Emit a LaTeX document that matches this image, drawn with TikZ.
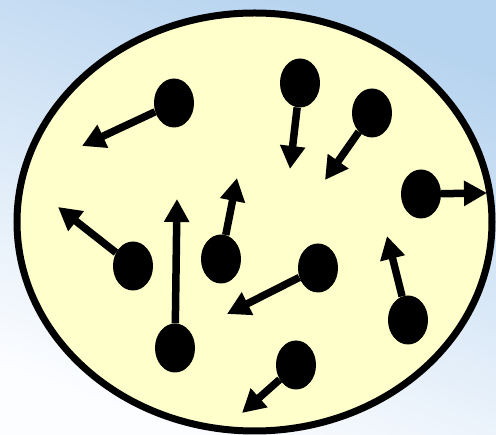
\documentclass[tikz,border=0pt]{standalone}
\usepackage{tikz}
\usetikzlibrary{arrows.meta, positioning, shapes.geometric}
\definecolor{skyblue}{HTML}{B6D3EF}
\definecolor{paleblue}{HTML}{FCFDFF}
\definecolor{paleyellow}{HTML}{FFFFCC}
\tikzstyle{particle}=[ellipse,fill=black,minimum width=40pt,
  minimum height=49pt,inner sep=0pt]
\tikzstyle{vel}=[-{Triangle[length=23pt,width=24pt]},line width=7.5pt]

\begin{document}
\begin{tikzpicture}[x=1pt,y=-1pt]
  \shade[top color=skyblue,bottom color=paleblue,shading angle=-20]
    (0,0) rectangle (496,435);
  \useasboundingbox (0,0) rectangle (496,435);
  \draw[line width=7pt,fill=paleyellow] (254.5,222) ellipse [x radius=237.5pt,y radius=209pt];
  \node[particle] (p1) at (174,103) {};
  \node[particle] (p2) at (300,83) {};
  \node[particle] (p3) at (372,113) {};
  \node[particle] (p4) at (421,194) {};
  \node[particle] (p5) at (133,266) {};
  \node[particle] (p6) at (175,348) {};
  \node[particle] (p7) at (221,259) {};
  \node[particle] (p8) at (318,268) {};
  \node[particle] (p9) at (408,320) {};
  \node[particle] (p10) at (296,365) {};
  \coordinate (t1) at (82,146);
  \coordinate (t2) at (290,169);
  \coordinate (t3) at (325,180);
  \coordinate (t4) at (487,193);
  \coordinate (t5) at (58,207);
  \coordinate (t6) at (177,199);
  \coordinate (t7) at (237,178);
  \coordinate (t8) at (227,314);
  \coordinate (t9) at (387,236);
  \coordinate (t10) at (242,413);
  \draw[vel] (p1) -- (t1);
  \draw[vel] (p2) -- (t2);
  \draw[vel] (p3) -- (t3);
  \draw[vel] (p4) -- (t4);
  \draw[vel] (p5) -- (t5);
  \draw[vel] (p6) -- (t6);
  \draw[vel] (p7) -- (t7);
  \draw[vel] (p8) -- (t8);
  \draw[vel] (p9) -- (t9);
  \draw[vel] (p10) -- (t10);
\end{tikzpicture}
\end{document}
